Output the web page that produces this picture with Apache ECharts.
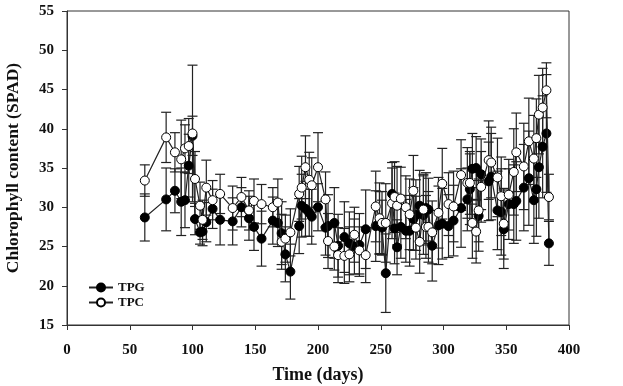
<!DOCTYPE html>
<html>
<head>
<meta charset="utf-8">
<script src="https://cdn.jsdelivr.net/npm/echarts@6/dist/echarts.min.js"></script>
<style>
  html, body { margin: 0; padding: 0; background: #fff; }
  #chart { width: 623px; height: 386px; }
</style>
</head>
<body>
<div id="chart"></div>
<script>
var days = [62, 79, 86, 91, 94, 97, 100, 102, 106, 108, 111, 116, 122, 132, 139, 145, 149, 155, 164, 168,
  171, 174, 178, 185, 187, 190, 193, 195, 200, 206, 208, 213, 216, 221, 225, 229, 233, 238, 246, 249,
  251, 254, 259, 261, 263, 266, 270, 273, 276, 278, 281, 284, 286, 288, 291, 296, 299, 304, 308, 314,
  319, 321, 323, 326, 328, 330, 336, 338, 343, 346, 348, 352, 356, 358, 364, 368, 372, 374, 376, 379,
  382, 384]

var tpg = [28.7, 31.0, 32.1, 30.7, 30.9, 35.3, 39.1, 28.5, 26.8, 26.9, 28.1, 29.8, 28.4, 28.2, 30.0, 28.6, 27.5, 26.0, 28.3, 28.0,
  26.7, 24.0, 21.8, 27.6, 30.2, 29.8, 29.3, 28.8, 30.0, 27.4, 27.6, 28.0, 25.1, 26.2, 25.4, 25.0, 25.2, 27.2, 27.6, 28.0,
  27.4, 21.6, 31.7, 27.3, 24.9, 27.5, 27.0, 27.0, 28.5, 29.0, 30.2, 29.0, 29.9, 29.7, 25.1, 27.7, 27.9, 27.6, 28.3, 29.9,
  31.0, 32.3, 34.9, 35.0, 28.9, 34.2, 33.3, 33.9, 29.6, 29.4, 27.2, 30.4, 30.4, 30.8, 32.5, 33.7, 30.9, 32.3, 35.1, 37.7,
  39.4, 25.4]
var tpgErr = [3.0, 4.0, 2.8, 4.3, 3.5, 4.0, 2.5, 2.0, 1.5, 1.8, 2.5, 2.5, 3.2, 3.0, 2.5, 2.8, 3.0, 3.5, 3.0, 3.0,
  4.0, 3.5, 3.5, 3.5, 4.0, 3.5, 3.0, 3.5, 3.0, 3.5, 4.0, 4.5, 4.0, 4.5, 4.0, 3.5, 4.0, 5.0, 4.5, 4.0,
  3.5, 5.0, 4.0, 4.5, 3.5, 4.0, 4.0, 4.5, 4.0, 4.5, 4.5, 5.0, 4.5, 4.0, 4.5, 5.0, 4.5, 4.0, 4.5, 5.0,
  4.0, 4.5, 4.5, 4.0, 4.5, 4.5, 5.0, 5.5, 5.0, 5.5, 5.0, 4.5, 5.0, 5.0, 5.5, 6.0, 5.5, 6.0, 6.5, 6.5,
  7.5, 2.8]

var tpc = [33.4, 38.9, 37.0, 36.1, 37.5, 37.8, 39.4, 33.6, 30.2, 28.4, 32.5, 30.9, 31.7, 29.9, 31.3, 29.6, 30.8, 30.4, 30.0, 30.6,
  25.6, 26.0, 26.8, 31.7, 32.5, 35.1, 33.5, 32.8, 35.1, 31.0, 25.7, 25.0, 23.9, 23.8, 24.0, 26.5, 24.5, 23.9, 30.1, 28.6,
  28.0, 28.0, 30.5, 31.3, 30.2, 31.1, 30.0, 29.1, 32.1, 27.4, 25.6, 29.7, 27.5, 27.5, 26.8, 29.3, 33.0, 30.4, 30.1, 34.1,
  33.1, 33.1, 28.0, 26.9, 29.6, 32.6, 36.0, 35.7, 33.8, 31.4, 27.9, 31.6, 34.5, 37.0, 35.2, 38.4, 36.2, 38.8, 41.8, 42.7,
  44.9, 31.3]
var tpcErr = [2.0, 3.2, 2.5, 5.0, 3.0, 3.5, 8.7, 3.5, 3.0, 2.5, 3.5, 2.5, 2.5, 2.8, 2.5, 2.5, 2.8, 2.5, 2.5, 3.0,
  3.5, 3.0, 3.0, 3.5, 4.0, 4.0, 3.5, 3.5, 4.4, 3.5, 3.5, 3.0, 3.5, 3.5, 3.5, 3.5, 3.0, 3.5, 4.5, 4.5,
  4.0, 5.0, 4.5, 4.5, 5.0, 4.0, 4.0, 4.5, 4.5, 4.0, 4.0, 4.5, 4.0, 4.5, 4.0, 4.5, 4.5, 4.0, 4.5, 4.5,
  4.5, 4.0, 4.5, 4.0, 4.0, 4.5, 5.0, 4.5, 5.0, 5.0, 4.5, 4.5, 5.5, 5.0, 5.5, 5.5, 5.5, 5.0, 5.0, 5.0,
  3.5, 2.9]

var font = "'Liberation Serif', 'Times New Roman', serif"

function pairs(vals) {
  return days.map(function(d, i) { return [d, vals[i]] })
}
function bars(vals, errs) {
  return days.map(function(d, i) { return [d, vals[i] - errs[i], vals[i] + errs[i]] })
}
function renderBar(params, api) {
  var x = api.value(0)
  var lo = api.coord([x, api.value(1)])
  var hi = api.coord([x, api.value(2)])
  var w = 5
  var st = { stroke: '#222', lineWidth: 1.2 }
  return {
    type: 'group',
    children: [
      { type: 'line', shape: { x1: lo[0], y1: lo[1], x2: hi[0], y2: hi[1] }, style: st },
      { type: 'line', shape: { x1: lo[0] - w, y1: lo[1], x2: lo[0] + w, y2: lo[1] }, style: st },
      { type: 'line', shape: { x1: hi[0] - w, y1: hi[1], x2: hi[0] + w, y2: hi[1] }, style: st }
    ]
  }
}

var myChart = echarts.init(document.getElementById('chart'))
var option = {
  backgroundColor: '#fff',
  animation: false,
  grid: {
    left: 67,
    right: 54,
    top: 11,
    bottom: 61,
    containLabel: false,
    outerBoundsMode: 'none',
    show: true,
    borderColor: '#333',
    borderWidth: 1
  },
  legend: {
    data: ['TPG', 'TPC'],
    orient: 'vertical',
    left: 83,
    top: 276,
    itemGap: 2,
    itemWidth: 24,
    itemHeight: 10,
    textStyle: { fontFamily: font, fontWeight: 'bold', fontSize: 13, color: '#111' }
  },
  xAxis: {
    type: 'value',
    min: 0,
    max: 400,
    interval: 50,
    name: 'Time (days)',
    nameLocation: 'middle',
    nameGap: 41,
    nameTextStyle: { fontFamily: font, fontWeight: 'bold', fontSize: 18, color: '#111' },
    axisLine: { lineStyle: { color: '#333' } },
    axisTick: { show: true, length: 5, lineStyle: { color: '#333' } },
    axisLabel: { fontFamily: font, fontWeight: 'bold', fontSize: 15, color: '#111', margin: 18 },
    splitLine: { show: false }
  },
  yAxis: {
    type: 'value',
    min: 15,
    max: 55,
    interval: 5,
    name: 'Chlorophyll content (SPAD)',
    nameLocation: 'middle',
    nameGap: 45,
    nameTextStyle: { fontFamily: font, fontWeight: 'bold', fontSize: 17.5, color: '#111' },
    axisLine: { show: true, lineStyle: { color: '#333' } },
    axisTick: { show: true, length: 5, lineStyle: { color: '#333' } },
    axisLabel: { fontFamily: font, fontWeight: 'bold', fontSize: 15, color: '#111', margin: 13 },
    splitLine: { show: false }
  },
  series: [
    {
      name: 'errG',
      type: 'custom',
      renderItem: renderBar,
      encode: { x: 0, y: [1, 2] },
      data: bars(tpg, tpgErr),
      z: 1
    },
    {
      name: 'errC',
      type: 'custom',
      renderItem: renderBar,
      encode: { x: 0, y: [1, 2] },
      data: bars(tpc, tpcErr),
      z: 1
    },
    {
      name: 'TPG',
      type: 'line',
      data: pairs(tpg),
      symbol: 'circle',
      symbolSize: 9,
      showAllSymbol: true,
      lineStyle: { color: '#222', width: 1.2 },
      itemStyle: { color: '#000', borderColor: '#000', borderWidth: 1 },
      z: 3
    },
    {
      name: 'TPC',
      type: 'line',
      data: pairs(tpc),
      symbol: 'circle',
      symbolSize: 9,
      showAllSymbol: true,
      lineStyle: { color: '#222', width: 1.2 },
      itemStyle: { color: '#fff', borderColor: '#000', borderWidth: 1 },
      z: 4
    }
  ]
}
myChart.setOption(option, true)
window.addEventListener('resize', () => {
  myChart.resize()
})
</script>
</body>
</html>
